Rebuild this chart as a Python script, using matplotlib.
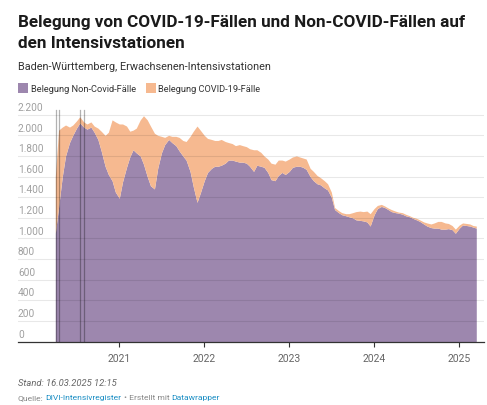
import matplotlib
matplotlib.use("Agg")
import matplotlib.pyplot as plt
import matplotlib.dates as mdates
from matplotlib.transforms import blended_transform_factory
import numpy as np

# ---------------- data (half-monthly readings) ----------------
months = ["2020-04", "2020-05", "2020-06", "2020-07", "2020-08", "2020-09", "2020-10", "2020-11", "2020-12",
          "2021-01", "2021-02", "2021-03", "2021-04", "2021-05", "2021-06", "2021-07", "2021-08", "2021-09",
          "2021-10", "2021-11", "2021-12",
          "2022-01", "2022-02", "2022-03", "2022-04", "2022-05", "2022-06", "2022-07", "2022-08", "2022-09",
          "2022-10", "2022-11", "2022-12",
          "2023-01", "2023-02", "2023-03", "2023-04", "2023-05", "2023-06", "2023-07", "2023-08", "2023-09",
          "2023-10", "2023-11", "2023-12",
          "2024-01", "2024-02", "2024-03", "2024-04", "2024-05", "2024-06", "2024-07", "2024-08", "2024-09",
          "2024-10", "2024-11", "2024-12",
          "2025-01", "2025-02", "2025-03"]
dates = [f"{m}-{d}" for m in months for d in ("01", "15")]

non_covid = [1050, 1300, 1600, 1800, 1930, 2000, 2070, 2120, 2080, 2060, 2080, 2030, 1960, 1850, 1700, 1620, 1560, 1450,
             1390, 1550, 1690, 1790, 1860, 1830, 1800, 1720, 1600, 1510, 1480, 1680, 1830, 1910, 1960, 1930, 1900, 1850,
             1800, 1760, 1650, 1500, 1350, 1440,
             1560, 1640, 1680, 1700, 1700, 1710, 1730, 1760, 1760, 1750, 1740, 1740, 1730, 1700, 1650, 1710, 1700, 1690,
             1640, 1570, 1560, 1610, 1640, 1620,
             1650, 1690, 1700, 1700, 1690, 1670, 1600, 1560, 1530, 1520, 1490, 1470, 1400, 1280, 1250, 1230, 1220, 1210,
             1200, 1180, 1175, 1170, 1160, 1120,
             1230, 1290, 1310, 1300, 1280, 1260, 1250, 1245, 1235, 1220, 1210, 1195, 1180, 1165, 1140, 1120, 1105, 1100,
             1100, 1090, 1090, 1095, 1085, 1050,
             1100, 1130, 1125, 1120, 1110, 1100]

covid = [550, 750, 480, 300, 150, 100, 70, 60, 50, 50, 50, 60, 110, 190, 300, 410, 590, 680,
         720, 560, 400, 250, 190, 240, 350, 470, 550, 580, 540, 320, 160, 70, 40, 60, 90, 130,
         150, 180, 340, 540, 740, 610,
         440, 330, 280, 250, 250, 250, 210, 170, 160, 150, 170, 160, 160, 170, 210, 150, 135, 110,
         130, 160, 160, 150, 120, 130,
         120, 100, 100, 90, 90, 100, 80, 90, 80, 70, 70, 60, 50, 20, 20, 20, 20, 30,
         50, 80, 90, 90, 105, 120,
         60, 30, 20, 15, 15, 20, 15, 10, 15, 15, 10, 10, 15, 15, 20, 30, 35, 50,
         65, 75, 60, 50, 40, 40,
         30, 20, 20, 20, 15, 20]

gap_dates = ["2020-04-03", "2020-04-16", "2020-07-18", "2020-08-03"]
gap_top = 2250

y_ticks = [200, 400, 600, 800, 1000, 1200, 1400, 1600, 1800, 2000, 2200]
x_ticks = ["2021-01-01", "2022-01-01", "2023-01-01", "2024-01-01", "2025-01-01"]
x_tick_labels = ["2021", "2022", "2023", "2024", "2025"]

title_lines = ["Belegung von COVID-19-Fällen und Non-COVID-Fällen auf", "den Intensivstationen"]
subtitle = "Baden-Württemberg, Erwachsenen-Intensivstationen"
legend_labels = ["Belegung Non-Covid-Fälle", "Belegung COVID-19-Fälle"]

# ---------------- styling ----------------
PURPLE = "#9d87ae"
ORANGE = "#f6b990"
plt.rcParams["font.family"] = ["Roboto", "DejaVu Sans"]

W, H = 487, 406
fig = plt.figure(figsize=(W / 100, H / 100), dpi=100)
fig.patch.set_facecolor("white")
fig.canvas.draw()
renderer = fig.canvas.get_renderer()

def fx(px):
    return px / W

def fy(py):
    return 1 - py / H

def fit_text(xp, yp, s, width_px, size0=8.0, **kw):
    t = fig.text(fx(xp), fy(yp), s, fontsize=size0, **kw)
    w = t.get_window_extent(renderer=renderer).width
    t.set_fontsize(size0 * width_px / w)
    return t

ax_left, ax_right, ax_bottom, ax_top = 18, 484, 342.5, 108
ax = fig.add_axes([fx(ax_left), fy(ax_bottom), fx(ax_right - ax_left), (ax_bottom - ax_top) / H])

x = mdates.datestr2num(dates)
nc = np.array(non_covid, dtype=float)
cv = np.array(covid, dtype=float)
ax.fill_between(x, 0, nc, color=PURPLE, lw=0, zorder=2)
ax.fill_between(x, nc, nc + cv, color=ORANGE, lw=0, zorder=2)

for g in gap_dates:
    ax.plot([mdates.datestr2num(g)] * 2, [0, gap_top], color="#000000", alpha=0.3, lw=0.9, zorder=4)

px_per_unit = (342.5 - 115.7) / 2200
ax.set_ylim(0, (ax_bottom - ax_top) / px_per_unit)
x0 = mdates.datestr2num("2021-01-01")
px_per_day = 85 / 365.25
ax.set_xlim(x0 - (119.3 - ax_left) / px_per_day, x0 + (ax_right - 119.3) / px_per_day)

for v in y_ticks:
    ax.axhline(v, color="#000000", alpha=0.09, lw=0.8, zorder=3)
trans = blended_transform_factory(ax.transAxes, ax.transData)
for v in y_ticks + [0]:
    lab = f"{v:,}".replace(",", ".")
    ax.annotate(lab, xy=(0, v), xycoords=trans, xytext=(0, 2.0), textcoords="offset points",
                ha="left", va="bottom", fontsize=7.3, color="#a0a0a0", zorder=5)

ax.set_yticks([])
ax.set_xticks(mdates.datestr2num(x_ticks))
ax.set_xticklabels(x_tick_labels)
ax.tick_params(axis="x", length=3.5, width=0.8, color="#333333", labelsize=7.5,
               labelcolor="#666666", pad=5)
for s in ("top", "right", "left"):
    ax.spines[s].set_visible(False)
ax.spines["bottom"].set_color("#333333")
ax.spines["bottom"].set_linewidth(0.9)
ax.spines["bottom"].set_zorder(6)
ax.set_facecolor("none")

# ---------------- texts ----------------
t1 = fit_text(17.5, 27, title_lines[0], 445, size0=12, ha="left", va="baseline",
              fontweight="bold", color="#1a1a1a")
fig.text(fx(17.5), fy(48.5), title_lines[1], ha="left", va="baseline", fontsize=t1.get_fontsize(),
         fontweight="bold", color="#1a1a1a")
fit_text(18, 67, subtitle, 252, ha="left", va="center", color="#333333")

sq = 10
fig.patches.append(plt.Rectangle((fx(18), fy(94)), fx(sq), sq / H, transform=fig.transFigure,
                                 color=PURPLE, lw=0))
fit_text(31, 89.3, legend_labels[0], 106, ha="left", va="center", color="#333333")
fig.patches.append(plt.Rectangle((fx(145.5), fy(94)), fx(sq), sq / H, transform=fig.transFigure,
                                 color=ORANGE, lw=0))
fit_text(158.5, 89.3, legend_labels[1], 102.5, ha="left", va="center", color="#333333")

fit_text(18, 384, "Stand: 16.03.2025 12:15", 99, ha="left", va="center", style="italic", color="#666666")

parts = [("Quelle:", "#888888"), ("DIVI-Intensivregister", "#1b8ec4"), ("• Erstellt mit", "#888888"),
         ("Datawrapper", "#1b8ec4")]
# measure whole line first to choose a size
probe = fig.text(0, 0, " ".join(p[0] for p in parts), fontsize=7)
full_w = probe.get_window_extent(renderer=renderer).width
probe.remove()
fsz = 7 * 203 / full_w
space_t = fig.text(0, 0, "a a", fontsize=fsz)
aa_t = fig.text(0, 0, "aa", fontsize=fsz)
space_w = space_t.get_window_extent(renderer=renderer).width - aa_t.get_window_extent(renderer=renderer).width
space_t.remove()
aa_t.remove()
xpos = 18.0
for txt, col in parts:
    t = fig.text(fx(xpos), fy(398.5), txt, ha="left", va="center", fontsize=fsz, color=col)
    xpos += t.get_window_extent(renderer=renderer).width + space_w

fig.savefig("out.png", dpi=100)
